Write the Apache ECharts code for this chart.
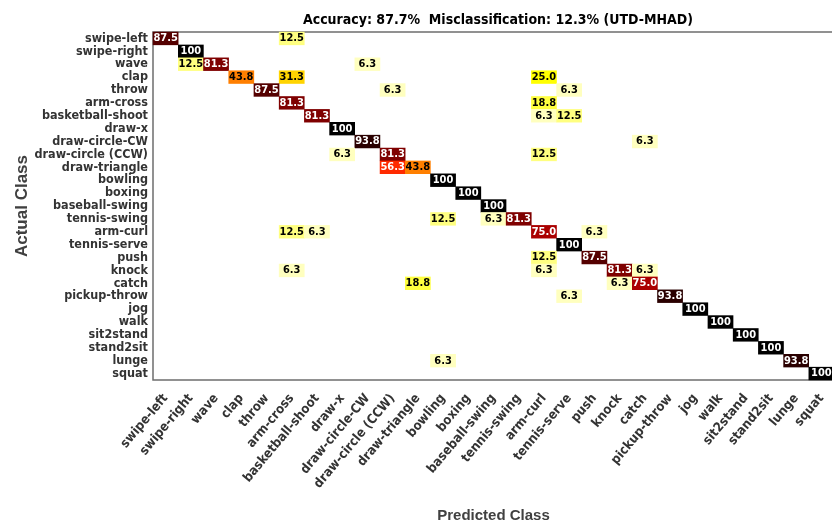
<!DOCTYPE html>
<html>
<head>
<meta charset="utf-8">
<script src="https://cdn.jsdelivr.net/npm/echarts@6/dist/echarts.min.js"></script>
<style>html,body{margin:0;padding:0;background:#fff}#c{width:832px;height:525px}</style>
</head>
<body>
<div id="c"></div>
<script>
// Class names (predicted = x, actual = y)
const classes = ["swipe-left","swipe-right","wave","clap","throw","arm-cross","basketball-shoot","draw-x","draw-circle-CW","draw-circle (CCW)","draw-triangle","bowling","boxing","baseball-swing","tennis-swing","arm-curl","tennis-serve","push","knock","catch","pickup-throw","jog","walk","sit2stand","stand2sit","lunge","squat"];

// Non-zero cells: [actualIndex, predictedIndex, percent]
const cells = [
  [0,0,87.5],[0,5,12.5],
  [1,1,100],
  [2,1,12.5],[2,2,81.3],[2,8,6.3],
  [3,3,43.8],[3,5,31.3],[3,15,25.0],
  [4,4,87.5],[4,9,6.3],[4,16,6.3],
  [5,5,81.3],[5,15,18.8],
  [6,6,81.3],[6,15,6.3],[6,16,12.5],
  [7,7,100],
  [8,8,93.8],[8,19,6.3],
  [9,7,6.3],[9,9,81.3],[9,15,12.5],
  [10,9,56.3],[10,10,43.8],
  [11,11,100],
  [12,12,100],
  [13,13,100],
  [14,11,12.5],[14,13,6.3],[14,14,81.3],
  [15,5,12.5],[15,6,6.3],[15,15,75.0],[15,17,6.3],
  [16,16,100],
  [17,15,12.5],[17,17,87.5],
  [18,5,6.3],[18,15,6.3],[18,18,81.3],[18,19,6.3],
  [19,10,18.8],[19,18,6.3],[19,19,75.0],
  [20,16,6.3],[20,20,93.8],
  [21,21,100],
  [22,22,100],
  [23,23,100],
  [24,24,100],
  [25,11,6.3],[25,25,93.8],
  [26,26,100]
];

const titleText = "Accuracy: 87.7%  Misclassification: 12.3% (UTD-MHAD)";

const narrow = "'DejaVu Sans Condensed','Liberation Sans Narrow',sans-serif";
const sans = "'Liberation Sans',Arial,sans-serif";

const data = cells.map(c => ({
  value: [c[1], c[0], c[2]],
  label: { color: c[2] >= 50 ? '#ffffff' : '#000000' }
}));

const chart = echarts.init(document.getElementById('c'));
chart.setOption({
  animation: false,
  backgroundColor: '#ffffff',
  title: {
    text: titleText,
    left: 493, top: 8, textAlign: 'center',
    textStyle: { fontFamily: narrow, fontWeight: 'bold', fontSize: 14, color: '#000' }
  },
  grid: { left: 153, top: 32, right: -2, bottom: 145, outerBoundsMode: 'none', containLabel: false, show: true, borderColor: '#6e6e6e', borderWidth: 1.5, backgroundColor: 'transparent' },
  xAxis: {
    type: 'category', data: classes, position: 'bottom',
    name: 'Predicted Class', nameLocation: 'middle', nameGap: 128, nameMoveOverlap: false,
    nameTextStyle: { fontFamily: sans, fontWeight: 'bold', fontSize: 15, color: '#404040' },
    axisLine: { show: false }, axisTick: { show: false }, splitLine: { show: false },
    axisLabel: { interval: 0, rotate: 50, margin: 16, fontFamily: narrow, fontWeight: 'bold', fontSize: 13, color: '#333' }
  },
  yAxis: {
    type: 'category', data: classes, inverse: true,
    name: 'Actual Class', nameLocation: 'middle', nameGap: 122, nameMoveOverlap: false,
    nameTextStyle: { fontFamily: sans, fontWeight: 'bold', fontSize: 17, color: '#404040' },
    axisLine: { show: false }, axisTick: { show: false }, splitLine: { show: false },
    axisLabel: { interval: 0, margin: 5, fontFamily: narrow, fontWeight: 'bold', fontSize: 12.5, color: '#333' }
  },
  visualMap: {
    show: false, min: 0, max: 100, dimension: 2,
    inRange: { color: ['#ffffff','#ffff80','#ffff00','#ffaa00','#ff5500','#ff0000','#aa0000','#550000','#000000'] }
  },
  series: [{
    type: 'heatmap',
    data: data,
    label: {
      show: true, fontFamily: narrow, fontWeight: 'bold', fontSize: 11,
      formatter: p => p.value[2] === 100 ? '100' : p.value[2].toFixed(1)
    },
    itemStyle: { borderWidth: 0 },
    emphasis: { disabled: true }
  }]
});
</script>
</body>
</html>
